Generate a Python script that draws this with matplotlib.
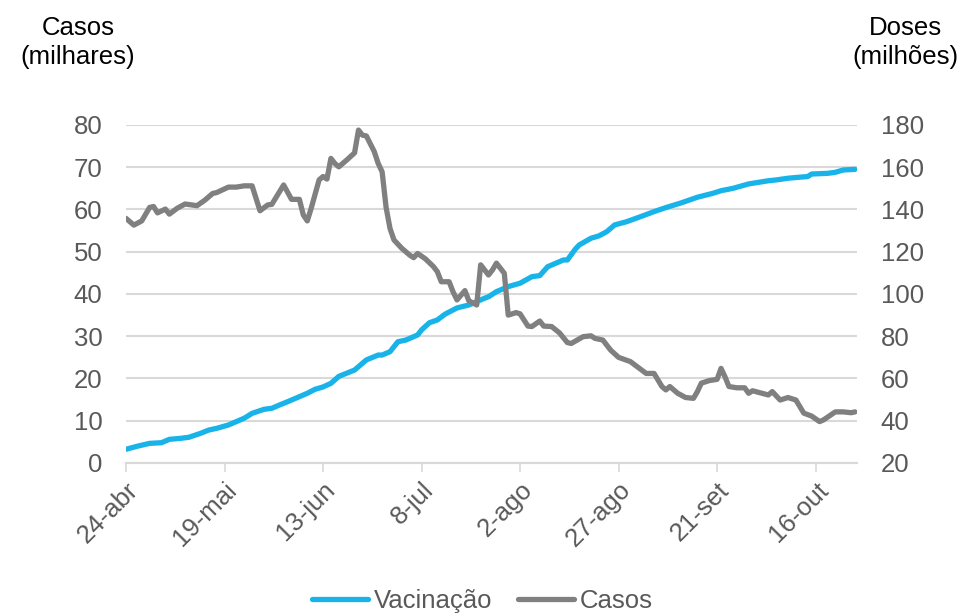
import numpy as np
import pandas as pd
import matplotlib
matplotlib.use("Agg")
import matplotlib.pyplot as plt

plt.rcParams["font.family"] = ["Liberation Sans", "DejaVu Sans"]

# dias contados a partir de 24-abr-2021
inicio = pd.Timestamp("2021-04-24")

casos_dia = [0, 2, 4, 6, 7, 8, 10, 11, 13, 15, 18, 20, 22, 23, 26, 28, 30, 32,
             34, 36, 37, 40, 42, 44, 45, 46, 47, 49, 50, 51, 52, 53, 54, 56, 58,
             59, 60, 61, 63, 64, 65, 66, 67, 68, 70, 72, 73, 74, 76, 78, 79, 80,
             82, 83, 84, 86, 87, 89, 90, 92, 93, 94, 96, 97, 99, 100, 102, 103,
             105, 106, 108, 110, 112, 113, 116, 118, 119, 121, 123, 125, 128,
             130, 132, 134, 136, 137, 138, 140, 142, 144, 145, 146, 148, 150,
             151, 152, 153, 155, 157, 158, 159, 161, 163, 164, 166, 168, 170,
             172, 174, 176, 177, 180, 182, 184, 185]
casos = [57.9, 56.3, 57.3, 60.5, 60.7, 59.2, 60.1, 58.9, 60.3, 61.3, 60.9, 62.2,
         63.8, 64.0, 65.3, 65.3, 65.6, 65.6, 59.7, 61.1, 61.2, 65.8, 62.4, 62.4,
         58.7, 57.3, 60.3, 67.0, 67.8, 67.2, 72.1, 70.9, 70.1, 71.7, 73.4, 78.8,
         77.6, 77.4, 73.7, 70.9, 68.9, 60.5, 55.5, 52.8, 50.8, 49.2, 48.6, 49.6,
         48.3, 46.5, 45.3, 42.9, 42.9, 40.5, 38.6, 40.8, 38.4, 37.4, 46.9, 44.5,
         45.7, 47.3, 44.9, 35.0, 35.6, 35.3, 32.4, 32.3, 33.6, 32.4, 32.3, 30.8,
         28.5, 28.3, 29.9, 30.1, 29.5, 29.1, 26.7, 25.0, 24.0, 22.6, 21.2, 21.2,
         18.1, 17.3, 18.1, 16.5, 15.5, 15.3, 16.9, 18.9, 19.5, 19.8, 22.4, 20.4,
         18.1, 17.8, 17.8, 16.5, 17.1, 16.6, 16.1, 16.9, 14.9, 15.5, 14.9, 11.8,
         11.1, 9.8, 10.2, 12.1, 12.1, 11.9, 12.1]

vac_dia = [0, 3, 6, 9, 11, 14, 16, 19, 21, 23, 26, 28, 30, 32, 35, 37, 39, 41,
           43, 46, 48, 50, 52, 54, 58, 61, 64, 65, 67, 69, 71, 74, 75, 77, 79,
           81, 84, 87, 89, 91, 92, 94, 97, 100, 103, 105, 107, 108, 111, 112,
           114, 115, 118, 120, 122, 124, 127, 131, 134, 137, 141, 145, 149, 151,
           154, 158, 163, 165, 168, 171, 173, 174, 178, 180, 182, 185]
vacinacao = [26.5, 28.0, 29.3, 29.6, 31.2, 31.7, 32.2, 34.1, 35.6, 36.4, 38.0,
             39.6, 41.2, 43.5, 45.4, 45.9, 47.5, 49.0, 50.6, 53.0, 54.9, 56.0,
             57.7, 61.0, 64.0, 68.8, 71.1, 71.1, 72.7, 77.4, 78.2, 80.6, 83.0,
             86.4, 87.7, 90.5, 93.4, 94.8, 96.4, 98.0, 98.7, 101.1, 103.5, 105.1,
             108.2, 108.7, 112.9, 113.7, 116.1, 116.1, 121.2, 123.2, 126.4, 127.5,
             129.5, 132.7, 134.2, 136.9, 139.0, 140.9, 143.2, 145.8, 147.7, 148.9,
             150.0, 152.1, 153.6, 154.0, 154.8, 155.3, 155.6, 156.8, 157.1, 157.6,
             158.7, 159.0]

rotulos_x = ["24-abr", "19-mai", "13-jun", "8-jul", "2-ago", "27-ago", "21-set", "16-out"]
ticks_x = pd.date_range(inicio, periods=len(rotulos_x), freq="25D")

AZUL = "#18B4E9"
CINZA = "#808080"
TEXTO = "#595959"
GRADE = "#D9D9D9"
FS = 18.5

datas_casos = inicio + pd.to_timedelta(casos_dia, unit="D")
datas_vac = inicio + pd.to_timedelta(vac_dia, unit="D")

fig = plt.figure(figsize=(9.64, 6.13), dpi=100)
ax = fig.add_axes([0.1307, 0.2447, 0.7583, 0.5514])
ax2 = ax.twinx()

# grade no eixo da direita, casos desenhado por cima
ax.set_zorder(ax2.get_zorder() + 1)
ax.patch.set_visible(False)

l_vac, = ax2.plot(datas_vac, vacinacao, color=AZUL, lw=3.8,
                  solid_capstyle="round", solid_joinstyle="round", label="Vacinação")
l_cas, = ax.plot(datas_casos, casos, color=CINZA, lw=3.8,
                 solid_capstyle="round", solid_joinstyle="round", label="Casos")

ax.set_ylim(0, 80)
ax.set_yticks(np.arange(0, 81, 10))
ax2.set_ylim(20, 180)
ax2.set_yticks(np.arange(20, 181, 20))
ax2.grid(axis="y", color=GRADE, lw=1.5)
ax2.set_axisbelow(True)

ax.set_xlim(inicio, inicio + pd.Timedelta(days=185.5))
ax.set_xticks(ticks_x)
ax.set_xticklabels(rotulos_x, rotation=45, ha="right", va="top",
                   rotation_mode="anchor")

for a in (ax, ax2):
    for s in ("top", "left", "right"):
        a.spines[s].set_visible(False)
    a.spines["bottom"].set_color(GRADE)
    a.spines["bottom"].set_linewidth(1.5)

ax.tick_params(axis="x", colors=GRADE, length=6.5, width=1.2, pad=4,
               labelcolor=TEXTO, labelsize=FS)
ax.tick_params(axis="y", length=0, pad=17, labelcolor=TEXTO, labelsize=FS)
ax2.tick_params(axis="y", length=0, pad=17, labelcolor=TEXTO, labelsize=FS)

fig.text(0.081, 0.931, "Casos\n(milhares)", ha="center", va="center",
         fontsize=FS, color="#000000", linespacing=1.25)
fig.text(0.939, 0.931, "Doses\n(milhões)", ha="center", va="center",
         fontsize=FS, color="#000000", linespacing=1.25)

fig.legend([l_vac, l_cas], ["Vacinação", "Casos"], loc="lower center",
           bbox_to_anchor=(0.5, -0.038), ncol=2, frameon=False, fontsize=FS,
           handlelength=2.2, handletextpad=0.2, columnspacing=1.0,
           labelcolor=TEXTO)

fig.savefig("out.png", dpi=100)
